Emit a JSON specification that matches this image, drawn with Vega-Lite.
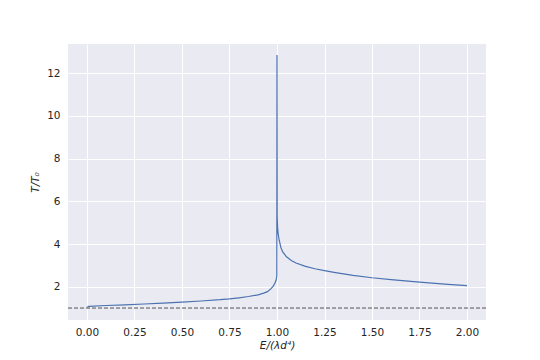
{
  "$schema": "https://vega.github.io/schema/vega-lite/v6.json",
  "width": 418,
  "height": 276,
  "autosize": {"type": "none"},
  "padding": {"left": 68, "top": 44, "right": 54, "bottom": 40},
  "background": "white",
  "view": {"fill": "#EAEAF2", "stroke": null},
  "config": {
    "font": "DejaVu Sans",
    "axis": {
      "domain": false,
      "ticks": false,
      "gridColor": "white",
      "gridWidth": 1,
      "labelFont": "DejaVu Sans",
      "labelFontSize": 10.5,
      "labelColor": "#262626",
      "titleFont": "DejaVu Sans",
      "titleFontSize": 10.5,
      "titleFontWeight": "normal",
      "titleColor": "#262626"
    }
  },
  "layer": [
    {
      "data": {"values": [{"y": 1}]},
      "mark": {"type": "rule", "color": "#555555", "strokeWidth": 1, "strokeDash": [4, 2]},
      "encoding": {"y": {"field": "y", "type": "quantitative"}}
    },
    {
      "data": {
        "values": [
          {"x": 0.0, "y": 1.04},
          {"x": 0.01, "y": 1.08},
          {"x": 0.1, "y": 1.12},
          {"x": 0.2, "y": 1.15},
          {"x": 0.3, "y": 1.19},
          {"x": 0.4, "y": 1.23},
          {"x": 0.5, "y": 1.28},
          {"x": 0.6, "y": 1.33},
          {"x": 0.7, "y": 1.39},
          {"x": 0.75, "y": 1.43},
          {"x": 0.8, "y": 1.48},
          {"x": 0.85, "y": 1.54},
          {"x": 0.9, "y": 1.62},
          {"x": 0.93, "y": 1.70},
          {"x": 0.95, "y": 1.77},
          {"x": 0.97, "y": 1.92},
          {"x": 0.98, "y": 2.03},
          {"x": 0.99, "y": 2.18},
          {"x": 0.995, "y": 2.3},
          {"x": 0.999, "y": 2.5},
          {"x": 1.0, "y": 12.85},
          {"x": 1.001, "y": 5.3},
          {"x": 1.003, "y": 4.8},
          {"x": 1.006, "y": 4.5},
          {"x": 1.01, "y": 4.25},
          {"x": 1.02, "y": 3.85},
          {"x": 1.03, "y": 3.63},
          {"x": 1.05, "y": 3.40},
          {"x": 1.075, "y": 3.23},
          {"x": 1.1, "y": 3.11},
          {"x": 1.15, "y": 2.95},
          {"x": 1.2, "y": 2.84},
          {"x": 1.25, "y": 2.75},
          {"x": 1.3, "y": 2.67},
          {"x": 1.4, "y": 2.53},
          {"x": 1.5, "y": 2.42},
          {"x": 1.6, "y": 2.33},
          {"x": 1.75, "y": 2.21},
          {"x": 1.9, "y": 2.11},
          {"x": 2.0, "y": 2.05}
        ]
      },
      "mark": {"type": "line", "color": "#4C72B0", "strokeWidth": 1.2, "clip": true},
      "encoding": {
        "x": {
          "field": "x",
          "type": "quantitative",
          "scale": {"domain": [-0.1, 2.1], "nice": false, "zero": false},
          "axis": {
            "values": [0, 0.25, 0.5, 0.75, 1.0, 1.25, 1.5, 1.75, 2.0],
            "format": ".2f",
            "labelPadding": 7,
            "title": "E/(λd⁴)",
            "titleFontStyle": "italic",
            "titlePadding": 3
          }
        },
        "y": {
          "field": "y",
          "type": "quantitative",
          "scale": {"domain": [0.44, 13.37], "nice": false, "zero": false},
          "axis": {
            "values": [2, 4, 6, 8, 10, 12],
            "labelPadding": 8,
            "title": "T/T₀",
            "titleFontStyle": "italic",
            "titlePadding": 6
          }
        }
      }
    }
  ]
}
